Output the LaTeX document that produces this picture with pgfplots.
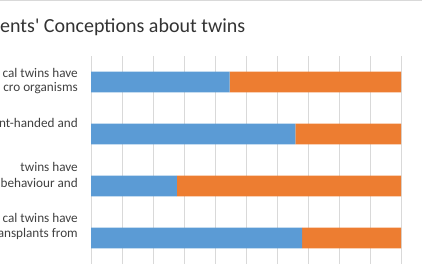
\documentclass[border=0pt]{standalone}
\usepackage{fontspec}
\setmainfont{Carlito}
\usepackage{pgfplots}
\pgfplotsset{compat=1.18}
\definecolor{cblue}{HTML}{5B9BD5}
\definecolor{corange}{HTML}{ED7D31}
\definecolor{cgrid}{HTML}{D9D9D9}
\definecolor{ctext}{HTML}{404040}
\begin{document}
\begin{tikzpicture}[x=1pt,y=1pt]
\useasboundingbox (0,0) rectangle (422,265);
\draw[cgrid, line width=1pt] (0,264.5) -- (422,264.5);
\begin{axis}[at={(91pt,1pt)}, anchor=south west, scale only axis,
  width=310pt, height=208pt,
  xbar stacked, bar width=20.6pt,
  xmin=0, xmax=100, ymin=0.5, ymax=4.5, y dir=reverse,
  xtick={0,10,...,100}, xticklabels={}, ytick=\empty,
  xmajorgrids, grid style={cgrid, line width=0.8pt},
  axis line style={draw=none}, major tick length=0pt, clip=false]
\addplot[fill=cblue, draw=none] coordinates {(44.7,1) (65.9,2) (27.7,3) (68.1,4)};
\addplot[fill=corange, draw=none] coordinates {(55.3,1) (34.1,2) (72.3,3) (31.9,4)};
\end{axis}
\tikzset{lab/.style={anchor=base east, inner sep=0pt, font=\fontsize{13.2}{15}\selectfont, text=ctext}}
\node[lab] at (78,187.5) {cal twins have};
\node[lab] at (78,173) {cro organisms};
\node[lab] at (78,137) {nt-handed and};
\node[lab] at (78,93) {twins have};
\node[lab] at (78,78) {behaviour and};
\node[lab] at (78,43) {cal twins have};
\node[lab] at (78,28) {ansplants from};
\node[anchor=base west, inner sep=0pt, font=\fontsize{20}{24}\selectfont, text=ctext!80!black] at (0,232.3) {ents\textquotesingle{} Conceptions about twins};
\end{tikzpicture}
\end{document}
